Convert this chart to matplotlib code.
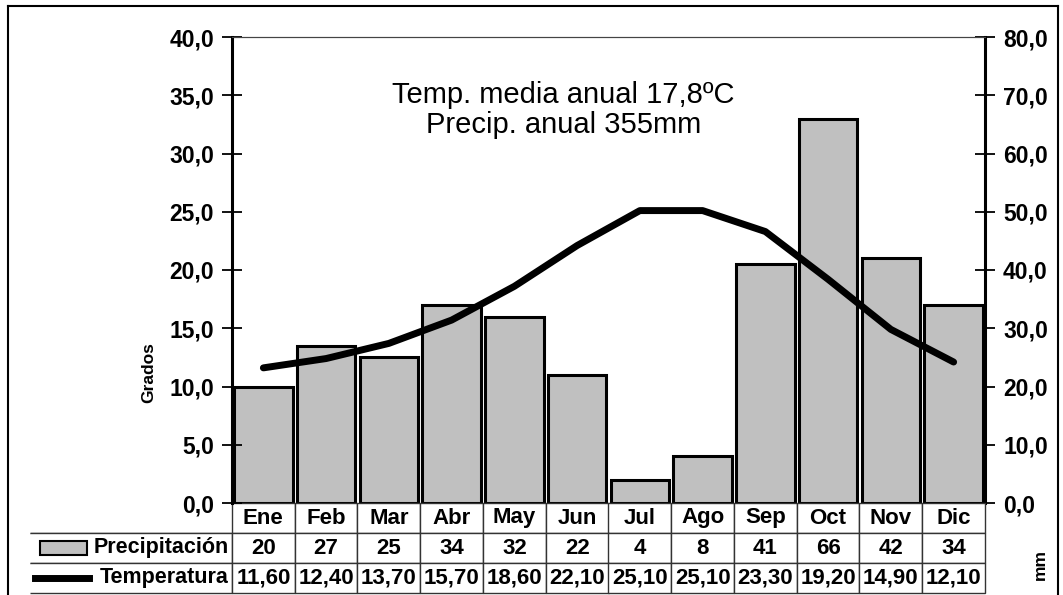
import matplotlib

matplotlib.use("Agg")
import matplotlib.pyplot as plt
import numpy as np
from matplotlib.patches import Rectangle
from matplotlib.lines import Line2D

MONTHS = ["Ene", "Feb", "Mar", "Abr", "May", "Jun", "Jul", "Ago", "Sep", "Oct", "Nov", "Dic"]
PRECIP_MM = [20, 27, 25, 34, 32, 22, 4, 8, 41, 66, 42, 34]
TEMP_C = [11.6, 12.4, 13.7, 15.7, 18.6, 22.1, 25.1, 25.1, 23.3, 19.2, 14.9, 12.1]
TITLE_LINES = ["Temp. media anual 17,8ºC", "Precip. anual 355mm"]

plt.rcParams.update({"font.family": ["Liberation Sans", "DejaVu Sans"]})

W, H = 1063, 595
fig = plt.figure(figsize=(W / 100, H / 100), dpi=100)

# axes placed in pixel terms of the reference
x0, x1, y_top, y_bot = 232, 985, 37, 503
ax = fig.add_axes([x0 / W, 1 - y_bot / H, (x1 - x0) / W, (y_bot - y_top) / H])
ax2 = ax.twinx()

x = np.arange(len(MONTHS))

# precipitation bars on the right (mm) axis
ax2.bar(x, PRECIP_MM, width=0.93, color="#c0c0c0", edgecolor="black", linewidth=2.2, zorder=2)
ax2.set_ylim(0, 80)
ax2.set_yticks(np.arange(0, 81, 10))
ax2.set_yticklabels([f"{v:.1f}".replace(".", ",") for v in np.arange(0, 81, 10)])

# temperature line on the left axis, drawn above the bars
ax.set_zorder(ax2.get_zorder() + 1)
ax.patch.set_visible(False)
ax.plot(x, TEMP_C, color="black", linewidth=5, solid_capstyle="round", solid_joinstyle="round")
ax.set_ylim(0, 40)
ax.set_xlim(-0.5, len(MONTHS) - 0.5)
ax.set_yticks(np.arange(0, 41, 5))
ax.set_yticklabels([f"{v:.1f}".replace(".", ",") for v in np.arange(0, 41, 5)])
ax.set_xticks([])

for a in (ax, ax2):
    a.tick_params(axis="y", direction="inout", length=14, width=1.3, labelsize=16.5, pad=6)
    a.spines["bottom"].set_visible(False)
    a.spines["top"].set_linewidth(0.8)
    a.spines["top"].set_color("#444444")
    for t in a.get_yticklabels():
        t.set_fontweight("bold")
ax.spines["left"].set_linewidth(2.2)
ax2.spines["right"].set_linewidth(2.2)
ax.spines["right"].set_visible(False)
ax2.spines["left"].set_visible(False)

ax.set_ylabel("Grados", fontsize=12.5, fontweight="bold")
ax.yaxis.set_label_coords(-0.1, 0.28)

for i, line in enumerate(TITLE_LINES):
    ax.text(0.44, 0.875 - i * 0.064, line, transform=ax.transAxes, ha="center", va="center", fontsize=21)

# data table under the plot
row_h = 30 / (y_bot - y_top)
label_w = (x0 - 30) / (x1 - x0)
precip_txt = [str(v) for v in PRECIP_MM]
temp_txt = [f"{v:.2f}".replace(".", ",") for v in TEMP_C]
cell_text = [[""] + MONTHS, [""] + precip_txt, [""] + temp_txt]
tbl = ax.table(
    cellText=cell_text,
    colWidths=[label_w] + [1 / 12] * 12,
    cellLoc="center",
    bbox=[-label_w, -3 * row_h, 1 + label_w, 3 * row_h],
)
tbl.auto_set_font_size(False)
tbl.set_fontsize(16)
for (r, c), cell in tbl.get_celld().items():
    cell.set_linewidth(1.0)
    cell.set_edgecolor("#333333")
    cell.PAD = 0.02
    if r == 0 and c == 0:
        cell.visible_edges = "B"
    elif c == 0:
        cell.visible_edges = "BTR"
    cell.get_text().set_fontweight("bold")

# row labels with legend keys
lbl_x = -0.004
ax.text(lbl_x, -1.5 * row_h, "Precipitación", transform=ax.transAxes, ha="right", va="center",
        fontsize=15.5, fontweight="bold")
ax.add_patch(Rectangle((-0.255, -1.5 * row_h - 0.015), 0.063, 0.03, transform=ax.transAxes,
                       facecolor="#c0c0c0", edgecolor="black", linewidth=1.5, clip_on=False))
ax.text(lbl_x, -2.5 * row_h, "Temperatura", transform=ax.transAxes, ha="right", va="center",
        fontsize=15.5, fontweight="bold")
ax.add_line(Line2D([-0.262, -0.19], [-2.5 * row_h, -2.5 * row_h], transform=ax.transAxes,
                   color="black", linewidth=5, clip_on=False))

fig.text(1040 / W, 1 - 565 / H, "mm", rotation=90, ha="center", va="center", fontsize=12.5, fontweight="bold")

# outer frame of the scanned chart
fig.add_artist(Line2D([8 / W, 8 / W], [0, 1 - 6 / H], transform=fig.transFigure, color="black", linewidth=1.5))
fig.add_artist(Line2D([8 / W, 1058 / W], [1 - 6 / H, 1 - 6 / H], transform=fig.transFigure, color="black", linewidth=1.5))
fig.add_artist(Line2D([1058 / W, 1058 / W], [0, 1 - 6 / H], transform=fig.transFigure, color="black", linewidth=1.5))

fig.savefig("out.png", dpi=100)
